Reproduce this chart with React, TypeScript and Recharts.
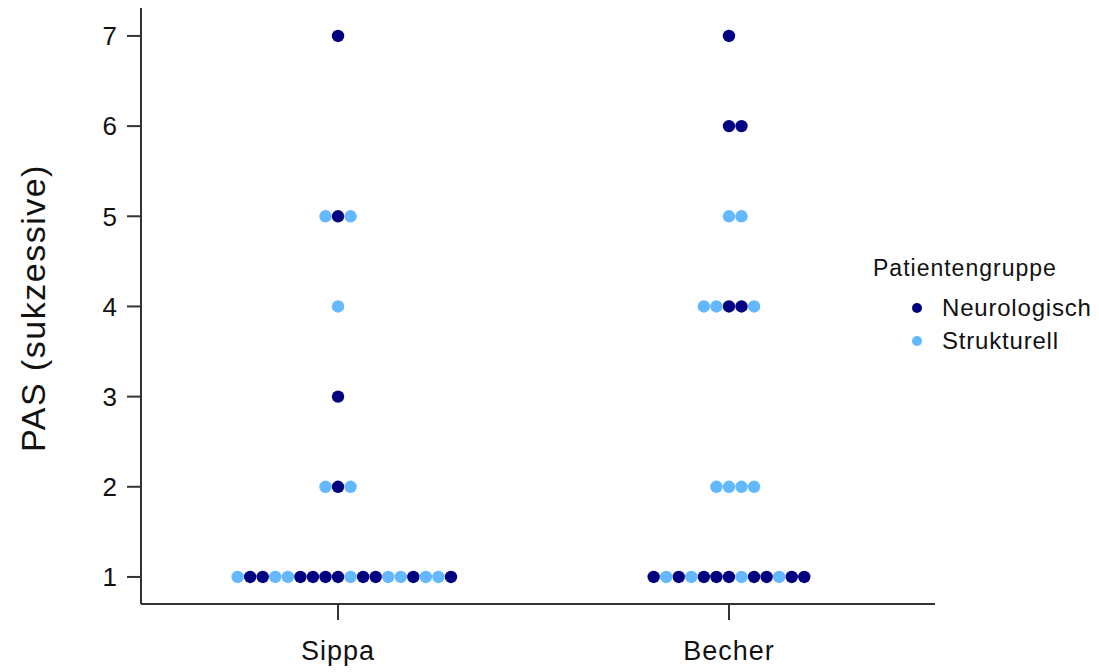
import { ScatterChart, Scatter, XAxis, YAxis, Label } from 'recharts';

const categories = ['Sippa', 'Becher'];
const pasTicks = [1, 2, 3, 4, 5, 6, 7];

// one row per PAS value, patients from left to right (N = Neurologisch, S = Strukturell)
const sippaRows = [
  { pas: 1, groups: ['S', 'N', 'N', 'S', 'S', 'N', 'N', 'N', 'N', 'S', 'N', 'N', 'S', 'S', 'N', 'S', 'S', 'N'] },
  { pas: 2, groups: ['S', 'N', 'S'] },
  { pas: 3, groups: ['N'] },
  { pas: 4, groups: ['S'] },
  { pas: 5, groups: ['S', 'N', 'S'] },
  { pas: 7, groups: ['N'] },
];

const becherRows = [
  { pas: 1, groups: ['N', 'S', 'N', 'S', 'N', 'N', 'N', 'S', 'N', 'N', 'S', 'N', 'N'] },
  { pas: 2, groups: ['S', 'S', 'S', 'S'] },
  { pas: 4, groups: ['S', 'S', 'N', 'N', 'S'] },
  { pas: 5, groups: ['S', 'S'] },
  { pas: 6, groups: ['N', 'N'] },
  { pas: 7, groups: ['N'] },
];

const groupNames = { N: 'Neurologisch', S: 'Strukturell' };
const COLORS = { N: '#000080', S: '#63B8FF' };

const DOT_STEP = 0.0321; // horizontal gap between dots, in x units
const FONT = '"Liberation Sans", Arial, sans-serif';

type Row = { pas: number; groups: string[] };

function swarm(rows: Row[], catIndex: number) {
  return rows.flatMap((row) => {
    const mid = Math.floor((row.groups.length - 1) / 2);
    return row.groups.map((g, i) => ({
      x: catIndex + 1 + (i - mid) * DOT_STEP,
      y: row.pas,
      group: g,
    }));
  });
}

const points = [...swarm(sippaRows, 0), ...swarm(becherRows, 1)];
const neuro = points.filter((p) => p.group === 'N');
const struk = points.filter((p) => p.group === 'S');

const dot = (color: string) => (props: any) =>
  <circle cx={props.cx} cy={props.cy} r={6.2} fill={color} />;

export default function App() {
  return (
    <div style={{ position: 'absolute', left: 0, top: 0, width: 1099, height: 672, fontFamily: FONT }}>
      <ScatterChart width={1099} height={672} margin={{ top: 8, right: 164, bottom: 0, left: 0 }}>
        <XAxis
          type="number"
          dataKey="x"
          domain={[0.496, 2.527]}
          ticks={[1, 2]}
          interval={0}
          tickFormatter={(v) => categories[Math.round(v) - 1]}
          height={68}
          tickSize={16}
          tickMargin={21}
          axisLine={{ stroke: '#333', strokeWidth: 2 }}
          tickLine={{ stroke: '#333', strokeWidth: 2 }}
          tick={{ fill: '#111', fontSize: 27, fontFamily: FONT, letterSpacing: 1 }}
        />
        <YAxis
          type="number"
          dataKey="y"
          domain={[0.7, 7.31]}
          ticks={pasTicks}
          interval={0}
          width={141}
          tickSize={14}
          tickMargin={10}
          axisLine={{ stroke: '#333', strokeWidth: 2 }}
          tickLine={{ stroke: '#333', strokeWidth: 2 }}
          tick={{ fill: '#111', fontSize: 26, fontFamily: FONT }}
        >
          <Label
            content={() => (
              <text
                transform="translate(33,308) rotate(-90)"
                textAnchor="middle"
                dominantBaseline="central"
                fill="#111"
                fontSize={34}
                fontFamily={FONT}
                letterSpacing={1.5}
              >
                PAS (sukzessive)
              </text>
            )}
          />
        </YAxis>
        <Scatter name={groupNames.N} data={neuro} fill={COLORS.N} shape={dot(COLORS.N)} isAnimationActive={false} />
        <Scatter name={groupNames.S} data={struk} fill={COLORS.S} shape={dot(COLORS.S)} isAnimationActive={false} />
      </ScatterChart>
      <svg width={240} height={120} style={{ position: 'absolute', left: 860, top: 250 }}>
        <text x={13} y={26} fontSize={23} fill="#111" fontFamily={FONT} letterSpacing={1}>
          Patientengruppe
        </text>
        {(['N', 'S'] as const).map((g, i) => (
          <g key={g}>
            <circle cx={57} cy={58 + i * 33} r={5} fill={COLORS[g]} />
            <text x={82} y={66 + i * 33} fontSize={24} fill="#111" fontFamily={FONT} letterSpacing={0.8}>
              {groupNames[g]}
            </text>
          </g>
        ))}
      </svg>
    </div>
  );
}
